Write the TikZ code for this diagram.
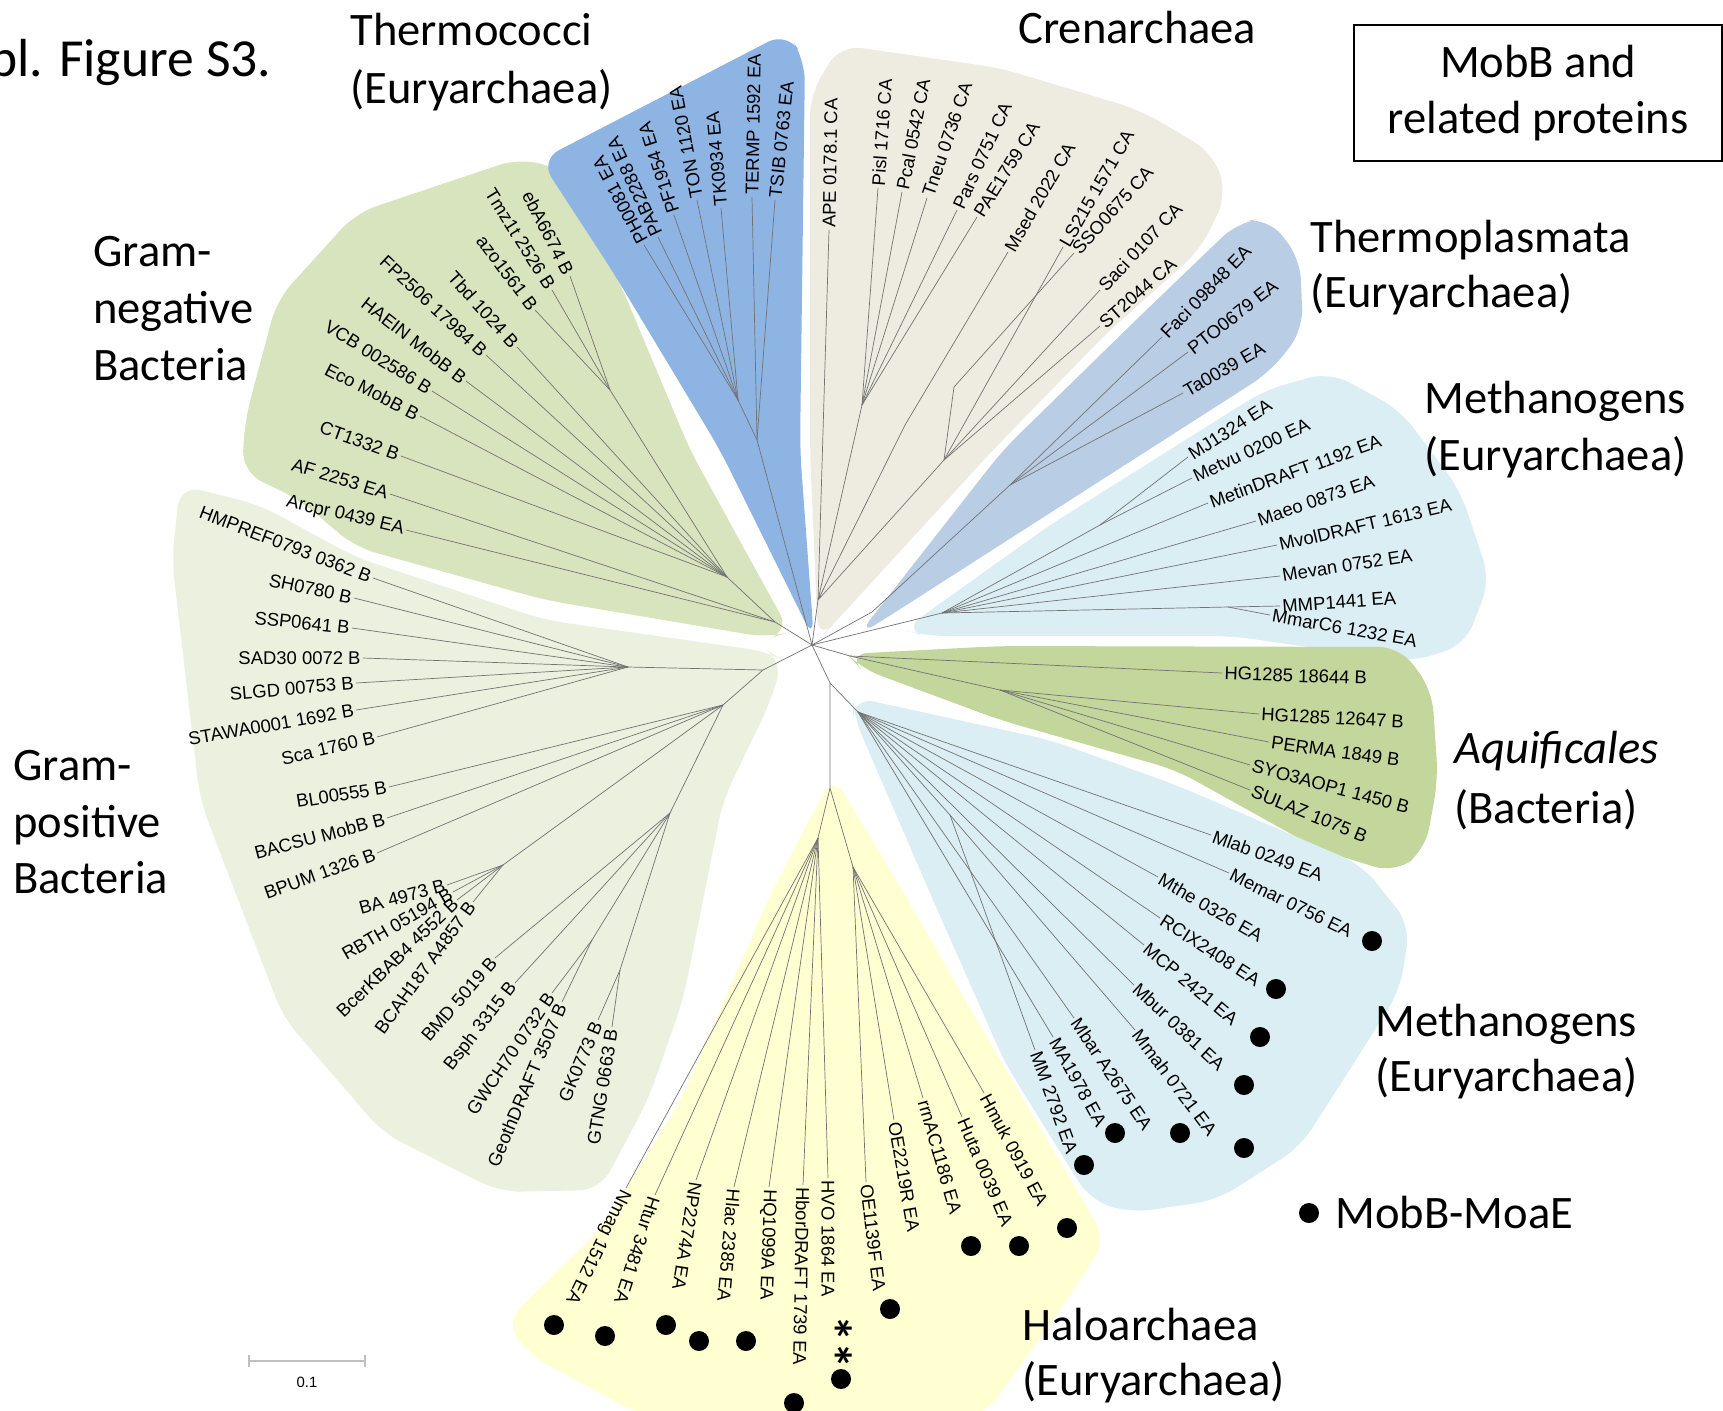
\documentclass[tikz,border=0pt]{standalone}
\usepackage{fontspec}
\setmainfont{Liberation Sans}
\newfontfamily\calib{Carlito}
\usepackage{xcolor}
\usepackage{tikz}

\definecolor{gnfill}{HTML}{D7E4BD}
\definecolor{thfill}{HTML}{8EB4E3}
\definecolor{crfill}{HTML}{EEECE1}
\definecolor{tpfill}{HTML}{B9CDE5}
\definecolor{mtfill}{HTML}{DBEEF4}
\definecolor{aqfill}{HTML}{C3D69B}
\definecolor{gpfill}{HTML}{EBF1DE}
\definecolor{hafill}{HTML}{FFFFD2}

\begin{document}
\begin{tikzpicture}[
    x=0.02cm, y=-0.02cm,
    branch_style/.style={draw=black!55, line width=0.4pt},
    leaf_style/.style={font=\fontsize{10.5}{12}\selectfont, inner xsep=1.2pt, inner ysep=0pt},
    group_style/.style={font=\calib\fontsize{26.5}{32}\selectfont, inner sep=0pt, anchor=base west},
    dot_style/.style={circle, fill=black, inner sep=0pt, minimum size=0.4cm},
    clade_style/.style={rounded corners=12pt}
]
    \useasboundingbox (0,0) rectangle (1723,1410);

    % Clade shading
    \fill[gnfill, clade_style] (790,632) -- (690,450) -- (620,283) -- (563,170) -- (520,158) -- (356,213) -- (277,300) -- (245,420) -- (242,472) -- (300,500) -- (355,547) -- (545,600) -- (770,638) -- cycle;
    \fill[thfill, clade_style] (814,640) -- (720,450) -- (613,272) -- (540,160) -- (787,32) -- (805,60) -- (800,450) -- cycle;
    \fill[crfill, clade_style] (818,640) -- (810,450) -- (810,95) -- (840,45) -- (1000,68) -- (1140,110) -- (1213,153) -- (1227,195) -- (1200,250) -- (1107,333) -- (993,450) -- (828,630) -- cycle;
    \fill[tpfill, clade_style] (858,635) -- (1003,450) -- (1139,317) -- (1238,222) -- (1268,218) -- (1300,258) -- (1303,330) -- (1270,372) -- (1050,513) -- (880,622) -- cycle;
    \fill[mtfill, clade_style] (903,630) -- (1050,525) -- (1265,390) -- (1330,372) -- (1400,410) -- (1460,490) -- (1490,580) -- (1465,645) -- (1410,662) -- (1232,636) -- (925,636) -- cycle;
    \fill[aqfill, clade_style] (847,654) -- (1000,646) -- (1400,647) -- (1432,690) -- (1438,780) -- (1425,850) -- (1395,873) -- (1320,850) -- (1176,770) -- (1000,720) -- (860,668) -- cycle;
    \fill[mtfill, clade_style] (853,697) -- (1050,740) -- (1176,785) -- (1362,865) -- (1410,925) -- (1400,990) -- (1354,1063) -- (1300,1147) -- (1217,1200) -- (1130,1213) -- (1090,1200) -- (1005,1063) -- (933,900) -- (853,715) -- cycle;
    \fill[hafill, clade_style] (833,775) -- (905,895) -- (1000,1060) -- (1106,1240) -- (1060,1310) -- (985,1415) -- (640,1415) -- (530,1355) -- (505,1322) -- (600,1230) -- (681,1100) -- (770,895) -- cycle;
    \fill[gpfill, clade_style] (783,660) -- (770,703) -- (723,800) -- (683,1000) -- (648,1100) -- (600,1190) -- (500,1192) -- (383,1133) -- (283,1017) -- (200,800) -- (172,560) -- (180,485) -- (260,505) -- (355,557) -- (545,620) -- (770,652) -- cycle;

    % Coordinates of inner nodes
    \coordinate (root) at (812,645);
    \coordinate (gn) at (775,622);
    \coordinate (gnA) at (727,577);
    \coordinate (gnB) at (610,390);
    \coordinate (th) at (757,440);
    \coordinate (thA) at (738,400);
    \coordinate (cr) at (818,600);
    \coordinate (crA) at (862,405);
    \coordinate (crB) at (944,460);
    \coordinate (crC) at (905,425);
    \coordinate (crD) at (954,387);
    \coordinate (tp) at (872,612);
    \coordinate (tpA) at (1010,485);
    \coordinate (mt) at (942,613);
    \coordinate (mtA) at (1100,525);
    \coordinate (mtB) at (1228,607);
    \coordinate (aq) at (850,656);
    \coordinate (aqA) at (1000,690);
    \coordinate (C) at (830,683);
    \coordinate (mb) at (858,712);
    \coordinate (mbC) at (950,815);
    \coordinate (ha) at (830,788);
    \coordinate (haA) at (818,838);
    \coordinate (haB) at (853,867);
    \coordinate (gp) at (763,670);
    \coordinate (staph) at (628,667);
    \coordinate (bac) at (723,705);
    \coordinate (cer) at (503,865);
    \coordinate (geo) at (670,813);
    \coordinate (geoA) at (620,970);
    \coordinate (geoB) at (592,940);

    % Inner edges
    \draw[branch_style] (root) -- (gn) -- (gnA) -- (gnB);
    \draw[branch_style] (root) -- (th) -- (thA);
    \draw[branch_style] (root) -- (cr) -- (crA) (cr) -- (crB) -- (crD) (cr) -- (crC);
    \draw[branch_style] (root) -- (tp) -- (tpA);
    \draw[branch_style] (root) -- (mt) -- (mtA) (mt) -- (mtB);
    \draw[branch_style] (root) -- (aq) -- (aqA);
    \draw[branch_style] (root) -- (C) -- (mb) -- (mbC) (C) -- (ha) -- (haA) (ha) -- (haB);
    \draw[branch_style] (root) -- (gp) -- (staph) (gp) -- (bac) -- (cer) (bac) -- (geo) -- (geoA) (geo) -- (geoB);

    % Leaves, labels read outwards
    \foreach \nm/\x/\y/\up/\ang/\txt in {
        th1/644/245/thA/118/PH0081 EA, th2/658/237/thA/115/PAB2288 EA,
        th3/674/215/thA/108/PF1954 EA, th4/697/200/thA/101/TON 1120 EA,
        th5/721/208/thA/95/TK0934 EA, th6/752/197/th/89/TERMP 1592 EA,
        th7/775/200/th/84/TSIB 0763 EA,
        cr1/829/230/cr/89/APE 0178.1 CA, cr2/878/188/crA/86/Pisl 1716 CA,
        cr3/902/192/crA/79/Pcal 0542 CA, cr4/927/198/crA/71/Tneu 0736 CA,
        cr5/957/210/crA/65/Pars 0751 CA, cr6/977/217/crA/58/PAE1759 CA,
        cr7/1008/252/crC/60/Msed 2022 CA, cr8/1063/247/crB/60/LS215 1571 CA,
        cr9/1074/253/crD/48/SSO0675 CA, cr10/1100/290/crB/47/Saci 0107 CA,
        cr11/1100/326/crB/41/ST2044 CA,
        tp1/1162/337/tpA/46/Faci 09848 EA, tp2/1188/352/tpA/38/PTO0679 EA,
        tp3/1183/393/tpA/30/Ta0039 EA,
        mt1/1188/457/mtA/33/MJ1324 EA, mt2/1192/478/mtA/25/Metvu 0200 EA,
        mt3/1208/503/mt/20/MetinDRAFT 1192 EA, mt4/1256/521/mt/19/Maeo 0873 EA,
        mt5/1277/545/mt/13/MvolDRAFT 1613 EA, mt6/1280/576/mt/9/Mevan 0752 EA,
        mt7/1280/606/mtB/4/MMP1441 EA, mt8/1270/615/mtB/-10/MmarC6 1232 EA,
        aq1/1222/673/aq/-2/HG1285 18644 B, aq2/1259/714/aqA/-3/HG1285 12647 B,
        aq3/1269/742/aqA/-8/PERMA 1849 B, aq4/1250/765/aqA/-15/SYO3AOP1 1450 B,
        aq5/1250/790/aqA/-22/SULAZ 1075 B,
        mb1/1211/835/mb/-20/Mlab 0249 EA, mb2/1229/873/mb/-26/Memar 0756 EA,
        mb3/1158/877/mb/-30/Mthe 0326 EA, mb4/1160/918/mb/-33/RCIX2408 EA,
        mb5/1144/945/mb/-40/MCP 2421 EA, mb6/1134/985/mb/-43/Mbur 0381 EA,
        mb7/1135/1030/mbC/-53/Mmah 0721 EA, mb8/1074/1018/mb/-56/Mbar A2675 EA,
        mb9/1053/1037/mb/-61/MA1978 EA, mb10/1035/1050/mbC/-70/MM 2792 EA,
        ha1/984/1093/haB/-62/Hmuk 0919 EA, ha2/962/1117/haB/-67/Huta 0039 EA,
        ha3/923/1098/haB/-74/rrnAC1186 EA, ha4/894/1120/haB/-80/OE2219R EA,
        ha5/866/1182/haB/-83/OE1139F EA, ha6/828/1178/haA/-90/HVO 1864 EA,
        ha7/803/1185/haA/-91/HborDRAFT 1739 EA, ha8/769/1187/haA/-92/HQ1099A EA,
        ha9/734/1187/haA/-95/Hlac 2385 EA, ha10/696/1180/haA/-99/NP2274A EA,
        ha11/655/1195/haA/-108/Htur 3481 EA, ha12/626/1188/haA/-116/Nmag 1512 EA}{
        \coordinate (\nm) at (\x,\y);
        \draw[branch_style] (\up) -- (\nm);
        \node[leaf_style, anchor=west, rotate=\ang] (\nm_t) at (\nm) {\txt};
    }

    % Leaves on the left, labels end at the branch
    \foreach \nm/\x/\y/\up/\ang/\txt in {
        gp1/612/1027/geoA/-99/GTNG 0663 B, gp2/598/1020/geoA/-113/GK0773 B,
        gp3/562/1002/geoB/-113/GeothDRAFT 3507 B, gp4/552/993/geoB/-124/GWCH70 0732 B,
        gp5/515/983/geo/-128/Bsph 3315 B, gp6/495/958/geo/-131/BMD 5019 B,
        gp7/473/902/cer/-126/BCAH187 A4857 B, gp8/457/900/cer/-136/BcerKBAB4 4552 B,
        gp9/453/892/cer/-150/RBTH 05194 B, gp10/447/885/cer/-165/BA 4973 B,
        gp11/377/853/bac/-160/BPUM 1326 B, gp12/387/818/bac/-165/BACSU MobB B,
        gp13/389/787/bac/-171/BL00555 B, gp14/377/737/staph/-167/Sca 1760 B,
        gp15/356/710/staph/-170/STAWA0001 1692 B, gp16/356/683/staph/-175/SLGD 00753 B,
        gp17/363/658/staph/180/SAD30 0072 B, gp18/352/628/staph/174/SSP0641 B,
        gp19/354/598/staph/168/SH0780 B, gp20/373/578/staph/159/HMPREF0793 0362 B,
        gn1/570/276/gnB/117/ebA6674 B, gn2/552/290/gnB/122/Tmz1t 2526 B,
        gn3/535/310/gnB/127/azo1561 B, gn4/517/347/gnA/132/Tbd 1024 B,
        gn5/486/355/gnA/137/FP2506 17984 B, gn6/466/381/gnA/142/HAEIN MobB B,
        gn7/432/391/gnA/148/VCB 002586 B, gn8/420/416/gnA/153/Eco MobB B,
        gn9/401/456/gnA/160/CT1332 B, gn10/390/494/gn/163/AF 2253 EA,
        gn11/406/530/gn/167/Arcpr 0439 EA}{
        \coordinate (\nm) at (\x,\y);
        \draw[branch_style] (\up) -- (\nm);
        \pgfmathsetmacro\rot{\ang+180}
        \node[leaf_style, anchor=east, rotate=\rot] (\nm_t) at (\nm) {\txt};
    }

    % MobB-MoaE marks
    \foreach \nm/\x/\y in {
        d_mb2/1372/941, d_mb4/1276/989, d_mb5/1260/1037, d_mb6/1244/1085,
        d_mb7/1244/1148, d_mb8/1180/1133, d_mb9/1115/1133, d_mb10/1084/1165,
        d_ha1/1067/1228, d_ha2/1019/1246, d_ha3/971/1246, d_ha5/890/1309,
        d_ha6/841/1379, d_ha7/794/1403, d_ha8/746/1341, d_ha9/699/1341,
        d_ha10/666/1325, d_ha11/605/1336, d_ha12/554/1325}
        \node[dot_style] (\nm) at (\x,\y) {};
    \node[font=\calib\bfseries\fontsize{30}{34}\selectfont, rotate=-90, inner sep=0pt] (stars) at (833,1342) {**};

    % Group names
    \node[group_style, anchor=base east, font=\calib\fontsize{30.5}{36}\selectfont] (title) at (272,76) {Suppl. Figure S3.};
    \node[group_style] (thermo_l1) at (350,45) {Thermococci};
    \node[group_style] (thermo_l2) at (350,103) {(Euryarchaea)};
    \node[group_style] (cren_l1) at (1018,43) {Crenarchaea};
    \node[group_style] (tplasma_l1) at (1310,252) {Thermoplasmata};
    \node[group_style] (tplasma_l2) at (1310,307) {(Euryarchaea)};
    \node[group_style] (methA_l1) at (1424,413) {Methanogens};
    \node[group_style] (methA_l2) at (1424,470) {(Euryarchaea)};
    \node[group_style] (aquif_l1) at (1454,763) {\itshape Aquificales};
    \node[group_style] (aquif_l2) at (1454,823) {(Bacteria)};
    \node[group_style] (methB_l1) at (1375,1036) {Methanogens};
    \node[group_style] (methB_l2) at (1375,1091) {(Euryarchaea)};
    \node[group_style] (halo_l1) at (1022,1340) {Haloarchaea};
    \node[group_style] (halo_l2) at (1022,1395) {(Euryarchaea)};
    \node[group_style] (gneg_l1) at (93,266) {Gram-};
    \node[group_style] (gneg_l2) at (93,323) {negative};
    \node[group_style] (gneg_l3) at (93,380) {Bacteria};
    \node[group_style] (gpos_l1) at (13,780) {Gram-};
    \node[group_style] (gpos_l2) at (13,837) {positive};
    \node[group_style] (gpos_l3) at (13,893) {Bacteria};
    \node[draw, line width=1.1pt, align=center, minimum width=7.36cm, minimum height=2.72cm,
          font=\calib\fontsize{26.5}{32}\selectfont] (box) at (1538,93) {MobB and\\related proteins};

    % Legend
    \node[dot_style] (legend_dot) at (1309,1213) {};
    \node[group_style] (legend_t) at (1335,1228) {MobB-MoaE};

    % Scale bar
    \coordinate (sbL) at (249,1361);
    \coordinate (sbR) at (365,1361);
    \draw[black!25, line width=0.6pt] (sbL) -- (sbR);
    \draw[black!25, line width=0.6pt] (sbL) ++(0,-6) -- ++(0,12);
    \draw[black!25, line width=0.6pt] (sbR) ++(0,-6) -- ++(0,12);
    \node[font=\fontsize{8.5}{10}\selectfont, inner sep=0pt] (sb_t) at (307,1382) {0.1};
\end{tikzpicture}
\end{document}
